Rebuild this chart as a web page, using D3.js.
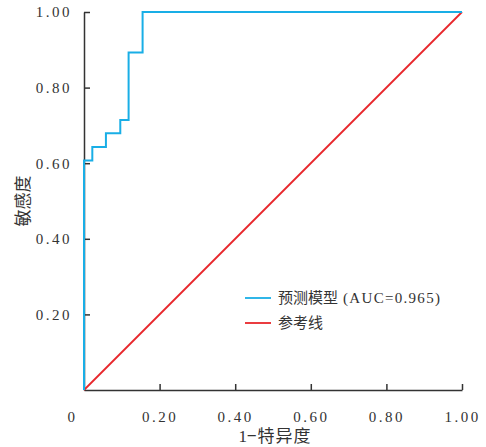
<!DOCTYPE html>
<html>
<head>
<meta charset="utf-8">
<script src="https://cdn.jsdelivr.net/npm/d3@7"></script>
<style>
  body { margin: 0; background: #fff; }
  svg text { font-family: "Liberation Serif", "DejaVu Serif", serif; fill: #333; }
  .cjk { font-family: "Noto Sans CJK SC", sans-serif; }
</style>
</head>
<body>
<script>
// ROC curve points (1 - specificity, sensitivity)
var fpr = [0, 0, 0.022, 0.022, 0.058, 0.058, 0.096, 0.096, 0.118, 0.118, 0.155, 0.155, 1];
var tpr = [0, 0.607, 0.607, 0.643, 0.643, 0.679, 0.679, 0.714, 0.714, 0.893, 0.893, 1, 1];
var refX = [0, 1];
var refY = [0, 1];
var xTicks = [0, 0.2, 0.4, 0.6, 0.8, 1.0];
var yTicks = [0.2, 0.4, 0.6, 0.8, 1.0];
var seriesNames = ["预测模型 (AUC=0.965)", "参考线"];
var colors = ["#19aee6", "#e8262b"];

var width = 486, height = 447;
var margin = {left: 84, right: 24, top: 12, bottom: 57};

var svg = d3.select("body").append("svg")
  .attr("width", width)
  .attr("height", height);

var x = d3.scaleLinear().domain([0, 1]).range([margin.left, width - margin.right]);
var y = d3.scaleLinear().domain([0, 1]).range([height - margin.bottom, margin.top]);

function fmt(d) { return d === 0 ? "0" : d3.format(".2f")(d); }

var xAxis = svg.append("g")
  .attr("transform", "translate(0," + y(0) + ")")
  .call(d3.axisBottom(x).tickValues(xTicks).tickSizeInner(-6).tickSizeOuter(0).tickFormat(fmt));
xAxis.selectAll("text").attr("dy", "1.9em").style("font-size", "15px").style("letter-spacing", "2.5px");

var yAxis = svg.append("g")
  .attr("transform", "translate(" + x(0) + ",0)")
  .call(d3.axisLeft(y).tickValues(yTicks).tickSizeInner(-6).tickSizeOuter(0).tickFormat(fmt));
yAxis.selectAll("text").attr("x", -12).style("font-size", "15px").style("letter-spacing", "2.5px");

svg.selectAll(".domain, .tick line").attr("stroke", "#333").attr("stroke-width", 1.5);
// the x tick at 0 sits on the y axis; hide its mark
xAxis.selectAll(".tick").filter(function (d) { return d === 0; }).select("line").remove();
xAxis.selectAll(".tick").filter(function (d) { return d === 0; }).select("text").attr("x", -12);

var line = d3.line().x(function (d) { return x(d[0]); }).y(function (d) { return y(d[1]); });

svg.append("path")
  .datum(d3.zip(refX, refY))
  .attr("d", line)
  .attr("fill", "none")
  .attr("stroke", colors[1])
  .attr("stroke-width", 1.8);

svg.append("path")
  .datum(d3.zip(fpr, tpr))
  .attr("d", line)
  .attr("fill", "none")
  .attr("stroke", colors[0])
  .attr("stroke-width", 2);

// axis titles
var xTitle = svg.append("text")
  .attr("x", x(0.5) + 2)
  .attr("y", 442)
  .attr("text-anchor", "middle")
  .style("font-size", "17px");
xTitle.append("tspan").text("1");
xTitle.append("tspan").attr("class", "cjk").style("letter-spacing", "1px").text("−特异度");

svg.append("text")
  .attr("class", "cjk")
  .attr("transform", "translate(29," + y(0.5) + ") rotate(-90)")
  .attr("text-anchor", "middle")
  .style("font-size", "17px")
  .text("敏感度");

// legend
var legend = svg.append("g").attr("transform", "translate(245,298)");
var item = legend.selectAll("g").data(seriesNames).enter().append("g")
  .attr("transform", function (d, i) { return "translate(0," + i * 25 + ")"; });
item.append("line")
  .attr("x1", 0).attr("x2", 26)
  .attr("stroke", function (d, i) { return colors[i]; })
  .attr("stroke-width", 1.8);
var lt = item.append("text")
  .attr("x", 33)
  .attr("dy", "0.35em")
  .style("font-size", "15px");
lt.append("tspan").attr("class", "cjk")
  .text(function (d) { return d.split(" (")[0]; });
lt.append("tspan")
  .style("letter-spacing", "1.3px")
  .text(function (d) { return d.indexOf(" (") >= 0 ? " (" + d.split(" (")[1] : ""; });
</script>
</body>
</html>
